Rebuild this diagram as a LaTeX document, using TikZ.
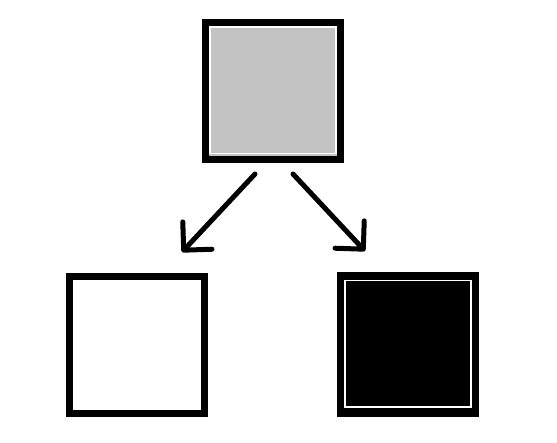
\documentclass[tikz,border=0pt]{standalone}
\usepackage{tikz}
\usetikzlibrary{arrows.meta}

\begin{document}
\begin{tikzpicture}[x=1pt,y=-1pt,
  sq/.style={draw=black,line width=7.5pt,minimum width=135pt,minimum height=137pt,inner sep=0pt,outer sep=0pt},
  rim/.style={draw=white,line width=1.4pt},
  arr/.style={line width=5pt,line cap=round,line join=round,-{Straight Barb[length=20pt,width=40pt,round]}}]
\useasboundingbox[fill=white] (0,0) rectangle (557,443);
% The three squares.
\node[sq,fill={rgb,255:red,195;green,195;blue,195}] (top) at (273,91) {};
\node[sq,fill=white] (left) at (137,345) {};
\node[sq,fill=black] (right) at (408,344.5) {};
% Thin white rim inside the grey and the black square.
\draw[rim] ([shift={(4.5,4.5)}]top.north west) rectangle ([shift={(-4.5,-6)}]top.south east);
\draw[rim] ([shift={(4.5,4.5)}]right.north west) rectangle ([shift={(-4.5,-6)}]right.south east);
% Arrows down to both squares.
\draw[arr] ([shift={(-18,14.5)}]top.south) -- ([shift={(45,-24.5)}]left.north);
\draw[arr] ([shift={(20,14.5)}]top.south) -- ([shift={(-43,-25)}]right.north);
\end{tikzpicture}
\end{document}
